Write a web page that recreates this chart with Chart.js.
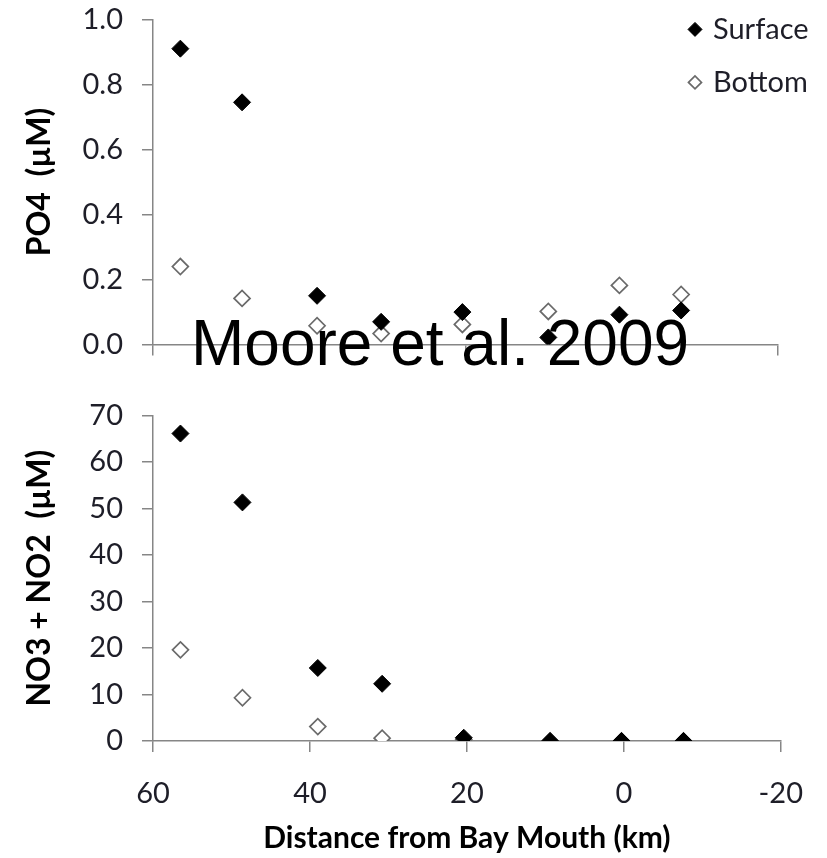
<!DOCTYPE html>
<html>
<head>
<meta charset="utf-8">
<script src="https://cdn.jsdelivr.net/npm/chart.js@4/dist/chart.umd.min.js"></script>
<style>
  html, body { margin: 0; padding: 0; background: #fff; }
  #wrap { position: relative; width: 827px; height: 858px; overflow: hidden; }
  canvas { position: absolute; left: 0; display: block; }
  #po4 { top: -18px; }
  #nox { top: 378px; }
  #credit {
    position: absolute; left: 191px; top: 311px;
    font-family: "Liberation Sans", Arial, sans-serif; font-size: 64px; line-height: 64px;
    color: #000; white-space: nowrap; z-index: 2;
  }
</style>
</head>
<body>
<div id="wrap">
  <canvas id="po4" width="827" height="398"></canvas>
  <canvas id="nox" width="827" height="480"></canvas>
  <div id="credit">Moore et al. 2009</div>
</div>
<script>
// Station distance from the bay mouth (km); negative = offshore
const distanceKm = [56.5, 48.6, 39.0, 30.8, 20.4, 9.4, 0.3, -7.6];

// Phosphate (µM)
const po4Surface = [0.91, 0.745, 0.15, 0.07, 0.10, 0.022, 0.092, 0.105];
const po4Bottom  = [0.24, 0.142, 0.058, 0.034, 0.062, 0.102, 0.182, 0.154];

// Nitrate + nitrite (µM)
const noxSurface = [66.1, 51.3, 15.7, 12.3, 0.7, 0, 0, 0];
const noxBottom  = [19.6, 9.3, 3.1, 0.6, 0.3, 0, 0, 0];

const seriesNames = ['Surface', 'Bottom'];
const xTickValues = [60, 40, 20, 0, -20];

// Page positions of the two plot areas (top edge of each)
const PO4_PLOT_TOP = 19;
const NOX_PLOT_TOP = 415;

const AXIS_GREY = '#868686';
const TEXT_DARK = '#1e1e28';
const TICK_FONT = { family: 'Lato, "Open Sans", sans-serif', size: 29 };
const X_TITLE_FONT = { family: 'Lato, "Open Sans", sans-serif', size: 30, weight: 'bold' };
const Y_TITLE_FONT = { family: 'Lato, "Open Sans", sans-serif', size: 32, weight: 'bold' };

function points(xs, ys) {
  return xs.map((x, i) => ({ x: x, y: ys[i] }));
}

function datasets(surface, bottom) {
  return [
    {
      label: seriesNames[0],
      data: points(distanceKm, surface),
      pointStyle: 'rectRot',
      pointRadius: 8.5,
      pointBackgroundColor: '#000',
      pointBorderColor: '#000',
      pointBorderWidth: 1,
      showLine: false
    },
    {
      label: seriesNames[1],
      data: points(distanceKm, bottom),
      pointStyle: 'rectRot',
      pointRadius: 8,
      pointBackgroundColor: '#fff',
      pointBorderColor: '#6a6a6a',
      pointBorderWidth: 1.7,
      showLine: false
    }
  ];
}

function xScale(showLabels, axisHeight, withTitle) {
  return {
    type: 'linear',
    reverse: true,
    min: -20, max: 60,
    afterBuildTicks: (s) => { s.ticks = xTickValues.map(v => ({ value: v })); },
    afterFit: (s) => { s.height = axisHeight; },
    border: { color: AXIS_GREY, width: 1.5 },
    grid: { drawOnChartArea: false, drawTicks: true, tickLength: 11, color: AXIS_GREY, lineWidth: 1.5 },
    ticks: { display: showLabels, color: TEXT_DARK, font: TICK_FONT, padding: 24, maxRotation: 0 },
    title: withTitle
      ? { display: true, text: 'Distance from Bay Mouth (km)', color: '#000', font: X_TITLE_FONT, padding: { top: 0, bottom: 3 } }
      : { display: false }
  };
}

function yScale(min, max, step, digits, titleText) {
  return {
    type: 'linear',
    min: min, max: max,
    ticks: {
      stepSize: step, color: TEXT_DARK, font: TICK_FONT, padding: 19,
      callback: (v) => Number(v).toFixed(digits)
    },
    afterFit: (s) => { s.width = 153; },
    border: { color: AXIS_GREY, width: 1.5 },
    grid: { drawOnChartArea: false, drawTicks: true, tickLength: 11, color: AXIS_GREY, lineWidth: 1.5 },
    title: { display: true, text: titleText, color: '#000', font: Y_TITLE_FONT, padding: { top: 20 } }
  };
}

// Legend in the upper-right corner, overlapping the plot like the original layout.
// Rows are given in page coordinates and converted to this canvas.
const cornerLegend = {
  id: 'cornerLegend',
  afterDraw(chart) {
    const ctx = chart.ctx;
    const shift = chart.chartArea.top - PO4_PLOT_TOP;
    const rows = [29, 82];
    ctx.save();
    chart.data.datasets.forEach((ds, i) => {
      const y = rows[i] + shift;
      const style = {
        pointStyle: 'rectRot',
        radius: i === 0 ? 7 : 6.5,
        borderWidth: ds.pointBorderWidth,
        rotation: 0
      };
      ctx.fillStyle = ds.pointBackgroundColor;
      ctx.strokeStyle = ds.pointBorderColor;
      ctx.lineWidth = ds.pointBorderWidth;
      Chart.helpers.drawPoint(ctx, style, 695, y);
      ctx.fillStyle = TEXT_DARK;
      ctx.font = TICK_FONT.size + 'px ' + TICK_FONT.family;
      ctx.textBaseline = 'middle';
      ctx.textAlign = 'left';
      ctx.fillText(ds.label, 713, y);
    });
    ctx.restore();
  }
};

const common = {
  responsive: false,
  animation: false,
  devicePixelRatio: 1,
  plugins: { legend: { display: false }, tooltip: { enabled: false } }
};

const po4Canvas = document.getElementById('po4');
const po4Chart = new Chart(po4Canvas, {
  type: 'scatter',
  data: { datasets: datasets(po4Surface, po4Bottom) },
  options: Object.assign({}, common, {
    layout: { padding: { left: 0, right: 49, top: 0, bottom: 0 } },
    scales: {
      x: xScale(false, 36, false),
      y: yScale(0, 1, 0.2, 1, 'PO4  (\u00B5M)')
    }
  }),
  plugins: [cornerLegend]
});

const noxCanvas = document.getElementById('nox');
const noxChart = new Chart(noxCanvas, {
  type: 'scatter',
  data: { datasets: datasets(noxSurface, noxBottom) },
  options: Object.assign({}, common, {
    layout: { padding: { left: 0, right: 43, top: 35, bottom: 0 } },
    scales: {
      x: xScale(true, 118, true),
      y: yScale(0, 70, 10, 0, 'NO3 + NO2  (\u00B5M)')
    }
  })
});

// Pin each canvas so its plot area starts at the intended page position
po4Canvas.style.top = (PO4_PLOT_TOP - po4Chart.chartArea.top) + 'px';
noxCanvas.style.top = (NOX_PLOT_TOP - noxChart.chartArea.top) + 'px';
</script>
</body>
</html>
